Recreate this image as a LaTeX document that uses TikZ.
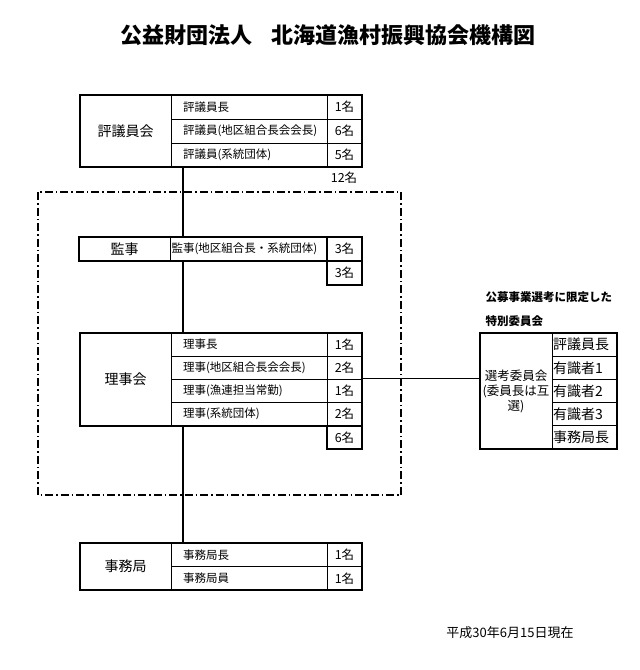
\documentclass[tikz,border=0pt]{standalone}
\usepackage{fontspec}
\setmainfont{Noto Sans CJK JP}
\begin{document}
\begin{tikzpicture}[x=1pt,y=-1pt,
  base/.style={draw, line width=0.8pt, anchor=north west, inner sep=0pt, outer sep=0pt},
  lab/.style={base, minimum width=91pt, font=\fontsize{14}{16}\selectfont},
  row/.style={base, text width=132pt, inner xsep=12pt, align=left, font=\fontsize{11.5}{13}\selectfont},
  num/.style={base, minimum width=35pt, font=\fontsize{12.5}{14}\selectfont},
  selrow/.style={base, minimum width=65pt, minimum height=23.2pt, text width=63pt, inner xsep=1pt, align=left, font=\fontsize{14}{16}\selectfont},
  frame/.style={line width=1.4pt},
  conn/.style={line width=1.3pt},
  dashdot/.style={line width=1.3pt, dash pattern=on 8pt off 3pt on 1.5pt off 3pt}]
\useasboundingbox (0,0) rectangle (640,670);
% title
\node[font=\fontsize{22}{25}\selectfont\bfseries] (title) at (328,35) {公益財団法人\hspace{20pt}北海道漁村振興協会機構図};
% 評議員会
\node[lab, minimum height=72pt] (hyoL) at (80,95) {評議員会};
\node[row, minimum height=24pt] (hyoR1) at (171,95) {評議員長};
\node[row, minimum height=24pt] (hyoR2) at (171,119) {評議員(地区組合長会会長)};
\node[row, minimum height=24pt] (hyoR3) at (171,143) {評議員(系統団体)};
\node[num, minimum height=24pt] (hyoN1) at (327,95) {1名};
\node[num, minimum height=24pt] (hyoN2) at (327,119) {6名};
\node[num, minimum height=24pt] (hyoN3) at (327,143) {5名};
\draw[frame] (hyoL.north west) rectangle (hyoN3.south east);
\node[font=\fontsize{12.5}{14}\selectfont] (total12) at (344,178) {12名};
% dashed frame
\draw[dashdot] (38,192) rectangle (401,495);
% 監事
\node[lab, minimum height=24pt] (kanL) at (79,237) {監事};
\node[row, minimum height=24pt, inner xsep=1.5pt, text width=153pt] (kanR1) at (170,237) {監事(地区組合長・系統団体)};
\node[num, minimum height=24pt] (kanN1) at (327,237) {3名};
\node[num, minimum height=24pt] (kanN2) at (327,261) {3名};
\draw[frame] (kanL.north west) rectangle (kanN1.south east);
\draw[frame] (kanN2.north west) rectangle (kanN2.south east);
% 理事会
\node[lab, minimum height=92.8pt] (riL) at (80,333) {理事会};
\node[row, minimum height=23.2pt] (riR1) at (171,333) {理事長};
\node[row, minimum height=23.2pt] (riR2) at (171,356.2) {理事(地区組合長会会長)};
\node[row, minimum height=23.2pt] (riR3) at (171,379.4) {理事(漁連担当常勤)};
\node[row, minimum height=23.2pt] (riR4) at (171,402.6) {理事(系統団体)};
\node[num, minimum height=23.2pt] (riN1) at (327,333) {1名};
\node[num, minimum height=23.2pt] (riN2) at (327,356.2) {2名};
\node[num, minimum height=23.2pt] (riN3) at (327,379.4) {1名};
\node[num, minimum height=23.2pt] (riN4) at (327,402.6) {2名};
\node[num, minimum height=23.2pt] (riN5) at (327,425.8) {6名};
\draw[frame] (riL.north west) rectangle (riN4.south east);
\draw[frame] (riN5.north west) rectangle (riN5.south east);
% 事務局
\node[lab, minimum height=47pt] (jiL) at (80,543) {事務局};
\node[row, minimum height=23.5pt] (jiR1) at (171,543) {事務局長};
\node[row, minimum height=23.5pt] (jiR2) at (171,566.5) {事務局員};
\node[num, minimum height=23.5pt] (jiN1) at (327,543) {1名};
\node[num, minimum height=23.5pt] (jiN2) at (327,566.5) {1名};
\draw[frame] (jiL.north west) rectangle (jiN2.south east);
% 特別委員会
\node[font=\fontsize{11.5}{13}\selectfont\bfseries, anchor=west] (selT1) at (482,297) {公募事業選考に限定した};
\node[font=\fontsize{11.5}{13}\selectfont\bfseries, anchor=west] (selT2) at (482,321) {特別委員会};
\node[base, minimum width=72pt, minimum height=116pt, align=center, font=\fontsize{12.5}{15}\selectfont] (selL) at (480,333) {選考委員会\\(委員長は互\\選)};
\node[selrow] (selR1) at (552,333) {評議員長};
\node[selrow] (selR2) at (552,356.2) {有識者1};
\node[selrow] (selR3) at (552,379.4) {有識者2};
\node[selrow] (selR4) at (552,402.6) {有識者3};
\node[selrow] (selR5) at (552,425.8) {事務局長};
\draw[frame] (selL.north west) rectangle (selR5.south east);
% connectors
\coordinate (spine) at (183,0);
\draw[conn] (hyoR3.south west -| spine) -- (kanR1.north west -| spine);
\draw[conn] (kanR1.south west -| spine) -- (riR1.north west -| spine);
\draw[conn] (riR4.south west -| spine) -- (jiR1.north west -| spine);
\draw[conn] ([yshift=1pt]riN2.south east) -- ([yshift=1pt]riN2.south east -| selL.west);
% date
\node[font=\fontsize{13}{15}\selectfont] (date) at (510,633) {平成30年6月15日現在};
\end{tikzpicture}
\end{document}
